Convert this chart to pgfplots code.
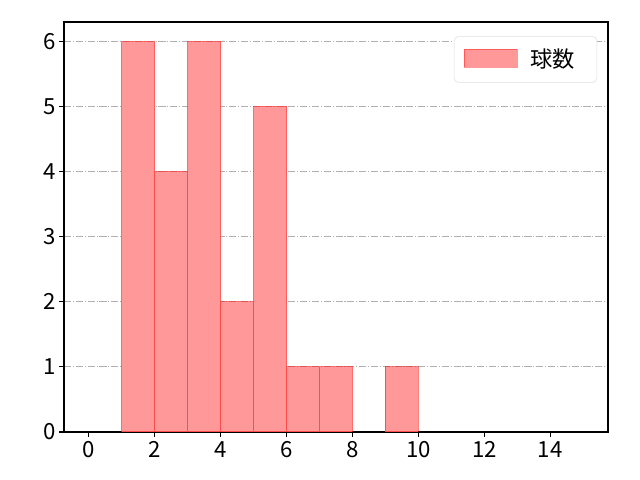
\documentclass[border=0pt]{standalone}
\usepackage{pgfplots}
\pgfplotsset{compat=1.18}
\usepackage{fontspec}
\setmainfont{Noto Sans CJK JP}
\definecolor{barfill}{HTML}{FF9999}
\definecolor{gridgray}{HTML}{B0B0B0}
\begin{document}
\begin{tikzpicture}
\useasboundingbox (-46.08pt,-34.56pt) rectangle (414.72pt,311.04pt);
\begin{axis}[
  at={(0,0)}, anchor=south west,
  scale only axis,
  width=391.68pt, height=295.2pt,
  xmin=-0.75, xmax=15.75,
  ymin=0, ymax=6.3,
  xtick={0,2,...,14},
  ytick={0,1,...,6},
  tick align=outside,
  tick pos=left,
  major tick length=3.5pt,
  tick style={black, line width=0.8pt},
  axis line style={line width=0.8pt},
  ymajorgrids,
  grid style={gridgray, line width=0.8pt, dash pattern=on 5.1pt off 1.3pt on 0.8pt off 1.3pt},
  tick label style={font=\fontsize{16}{19}\selectfont},
  yticklabel style={xshift=1pt},
  /pgf/number format/assume math mode=true,
  legend style={at={(0.98,0.965)}, anchor=north east, draw=gray!25, rounded corners=3pt,
    font=\fontsize{16}{19}\selectfont, inner xsep=7pt, inner ysep=7pt},
  legend cell align=left,
  legend image code/.code={\path[fill=barfill, draw=red, draw opacity=0.4, line width=0.6pt, sharp corners] (0cm,-0.2cm) rectangle (1.34cm,0.26cm);},
  legend style={nodes={inner xsep=9pt}},
]
\addplot[ybar interval, fill=barfill, draw=red, draw opacity=0.5, line width=0.8pt]
  coordinates {(1,6) (2,4) (3,6) (4,2) (5,5) (6,1) (7,1) (8,0)};
\addlegendentry{球数}
\addplot[ybar interval, fill=barfill, draw=red, draw opacity=0.5, line width=0.8pt, forget plot]
  coordinates {(9,1) (10,0)};
\end{axis}
\end{tikzpicture}
\end{document}
